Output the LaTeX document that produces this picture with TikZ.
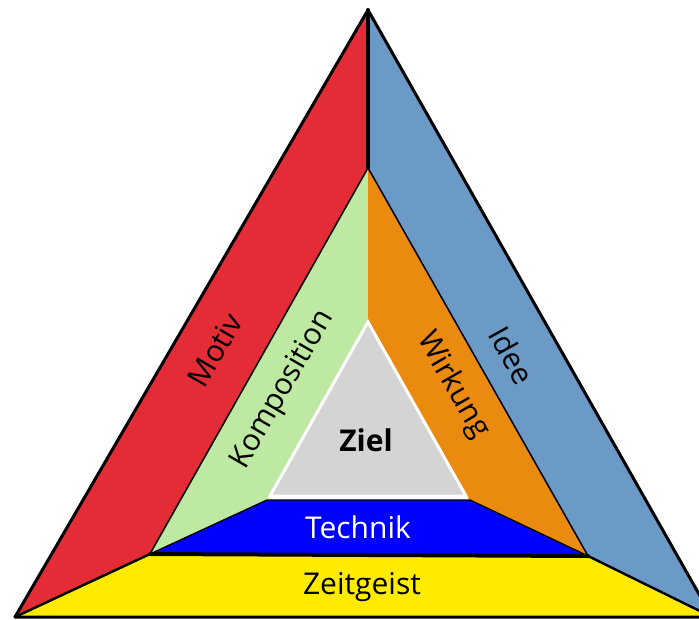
\documentclass[tikz,border=0pt]{standalone}
\usepackage{fontspec}
\setmainfont{Open Sans}
\usetikzlibrary{calc}
\definecolor{motivred}{RGB}{227,44,54}
\definecolor{ideeblue}{RGB}{108,154,199}
\definecolor{kompgreen}{RGB}{189,233,162}
\definecolor{wirkorange}{RGB}{234,138,15}
\definecolor{technikblue}{RGB}{0,0,255}
\definecolor{zeityellow}{RGB}{255,235,0}
\definecolor{zielgray}{RGB}{212,212,212}
\tikzset{
    facefill/.style={draw=black, line width=1.4pt, line join=round},
    edgeline/.style={draw=black, line width=3pt, line join=round, line cap=round},
    sidetext/.style={font=\fontsize{30}{34}\selectfont, inner sep=0pt},
}
\begin{document}
\begin{tikzpicture}[x=1pt, y=-1pt]
\useasboundingbox (0,0) rectangle (699,619);
\begin{scope}
\clip (0,0) rectangle (699,619);
% corner points
\coordinate (apex) at (368,10);
\coordinate (botl) at (15,617);
\coordinate (botr) at (712,617);
\coordinate (mid) at (368,168);
\coordinate (innl) at (150,554);
\coordinate (innr) at (588,556);
\coordinate (bandl) at (267,500);
\coordinate (bandr) at (470,500);
\coordinate (zieltop) at (368,322);
\coordinate (ziell) at (270,496);
\coordinate (zielr) at (466,496);

% outer faces
\filldraw[facefill, fill=motivred] (apex) -- (mid) -- (innl) -- (botl) -- cycle;
\filldraw[facefill, fill=ideeblue] (apex) -- (botr) -- (innr) -- (mid) -- cycle;
\filldraw[facefill, fill=zeityellow] (botl) -- (innl) -- (innr) -- (botr) -- cycle;

% inner faces
\fill[kompgreen] (mid) -- (zieltop) -- (ziell) -- (bandl) -- (innl) -- cycle;
\fill[wirkorange] (mid) -- (innr) -- (bandr) -- (zielr) -- (zieltop) -- cycle;
\draw[black, line width=1.4pt] (innl) -- (mid) -- (innr);
\filldraw[facefill, fill=technikblue] (innl) -- (bandl) -- (bandr) -- (innr) -- cycle;
\filldraw[draw=white, line width=3pt, line join=miter, fill=zielgray] (zieltop) -- (ziell) -- (zielr) -- cycle;

% heavy lines
\draw[edgeline] (apex) -- (botl) -- (botr) -- cycle;
\draw[edgeline, line width=4pt] (apex) -- (mid);
\draw[edgeline, line width=4pt] (innl) -- (innr);
\draw[edgeline, line width=2.4pt] (botl) -- (innl);
\draw[edgeline, line width=2.4pt] (innr) -- (botr);
\end{scope}

% labels
\node[sidetext, rotate=60] (motiv) at (215,350) {Motiv};
\node[sidetext, rotate=60] (komp) at (283,390) {Komposition};
\node[sidetext, rotate=-60] (wirkung) at (453,385) {Wirkung};
\node[sidetext, rotate=-61] (idee) at (512,355) {Idee};
\node[sidetext, font=\fontsize{30}{34}\selectfont\bfseries] (ziel) at (366,440) {Ziel};
\node[sidetext, text=white] (technik) at (358,527) {Technik};
\node[sidetext] (zeitgeist) at (362,587) {Zeitgeist};
\end{tikzpicture}
\end{document}
